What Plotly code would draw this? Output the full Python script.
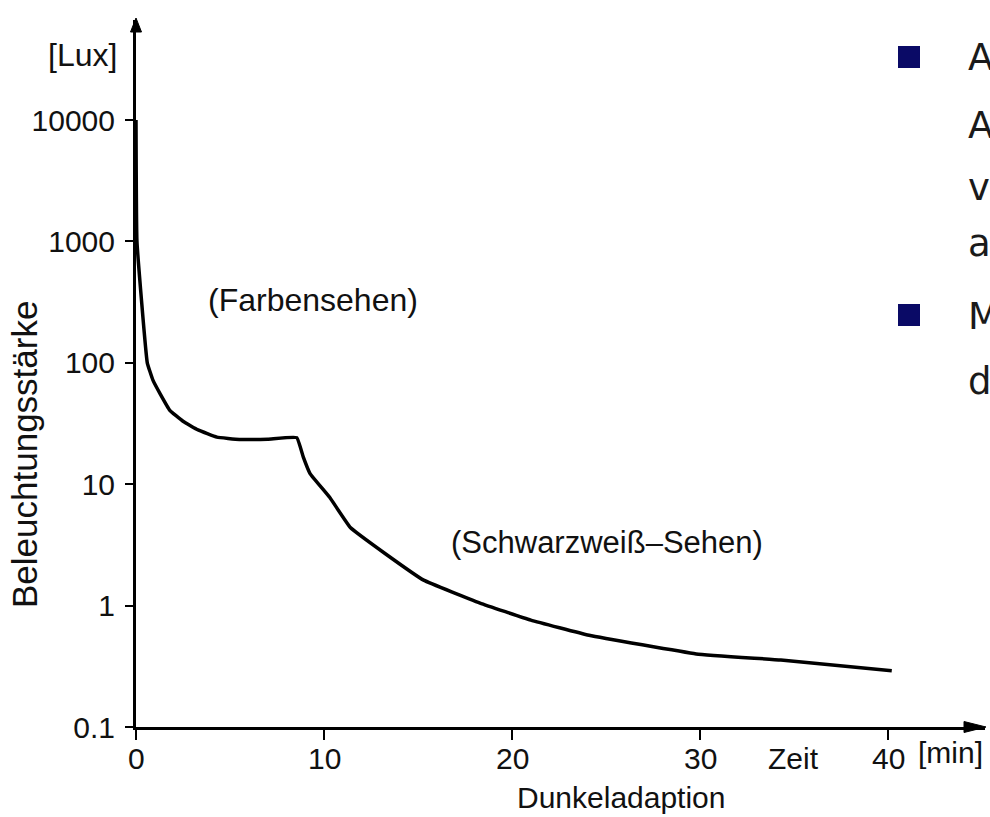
import plotly.graph_objects as go

# ---- data ----
zeit_min = [0, 0.05, 0.6, 0.9, 1.3, 1.8, 2.5, 3.3, 4.3, 5.5, 7.0, 8.55,
            8.9, 9.25, 10.3, 11.4, 13.3, 15.3, 18.3, 21.0, 24.1, 29.8, 34.3, 40.2]
lux = [10000, 1000, 100, 72, 55, 40.6, 33, 28, 24.4, 23.4, 23.5, 24.2,
       16.7, 12.3, 7.8, 4.4, 2.65, 1.62, 1.05, 0.76, 0.57, 0.40, 0.356, 0.29]

x_ticks = [0, 10, 20, 30, 40]
x_ticktext = ["0", "10", "20", "30", "40"]
y_ticks = [0.1, 1, 10, 100, 1000, 10000]
y_ticktext = ["0.1", "1", "10", "100", "1000", "10000"]

bullet_lines = ["A", "A", "v", "a", "M", "d"]

# ---- layout geometry (page pixels; body margin removed by post_script) ----
W, H = 990, 817
L, R, T, B = 136, 5, 20, 90
PW, PH = W - L - R, H - T - B
XMAX = PW / 18.8
YTOP = -1 + PH / 121.4

def px(xp):
    return (xp - L) / PW

def py(yp):
    return (H - B - yp) / PH

FONT = "Liberation Sans, Arial, Helvetica, sans-serif"
BFONT = "DejaVu Sans, Verdana, sans-serif"
INK = "#111111"

fig = go.Figure()
fig.add_trace(go.Scatter(
    x=zeit_min, y=lux, mode="lines",
    line=dict(color="black", width=3.5, shape="spline", smoothing=0.3),
    showlegend=False, hoverinfo="skip"))

fig.update_layout(
    width=W, height=H,
    margin=dict(l=L, r=R, t=T, b=B, pad=0),
    paper_bgcolor="white", plot_bgcolor="white",
    font=dict(family=FONT, size=30, color=INK),
    showlegend=False,
)
fig.update_xaxes(
    range=[0, XMAX], showgrid=False, zeroline=False,
    showline=True, linecolor="black", linewidth=3,
    ticks="outside", ticklen=10, tickwidth=2, tickcolor="black",
    tickvals=x_ticks, showticklabels=False,
)
fig.update_yaxes(
    type="log", range=[-1, YTOP], showgrid=False, zeroline=False,
    showline=True, linecolor="black", linewidth=3,
    ticks="outside", ticklen=8, tickwidth=2, tickcolor="black",
    tickvals=y_ticks, ticktext=y_ticktext,
    tickfont=dict(family=FONT, size=30, color=INK),
    ticklabelstandoff=4,
)

# x tick labels
for v, t in zip(x_ticks, x_ticktext):
    fig.add_annotation(text=t, x=v, xref="x", y=py(758), yref="paper",
                       showarrow=False, xanchor="center", yanchor="middle",
                       font=dict(family=FONT, size=30, color=INK))

# arrowheads on axes
fig.add_shape(type="path", xref="paper", yref="paper",
              path=f"M {px(986)},{py(727)} L {px(964)},{py(721.5)} L {px(964)},{py(732.5)} Z",
              fillcolor="black", line=dict(color="black", width=1))
fig.add_shape(type="path", xref="paper", yref="paper",
              path=f"M {px(136)},{py(18)} L {px(130.5)},{py(32)} L {px(141.5)},{py(32)} Z",
              fillcolor="black", line=dict(color="black", width=1))

def ann(text, xp, yp, size=30, **kw):
    fig.add_annotation(text=text, xref="paper", yref="paper",
                       x=px(xp), y=py(yp), showarrow=False,
                       font=dict(family=kw.pop("family", FONT), size=size,
                                 color=kw.pop("color", INK)),
                       **kw)

ann("[Lux]", 82, 55, size=32, xanchor="center", yanchor="middle")
ann("(Farbensehen)", 313, 300, size=32, xanchor="center", yanchor="middle")
ann("(Schwarzweiß–Sehen)", 607, 542, size=31, xanchor="center", yanchor="middle")
ann("Zeit", 793, 758, xanchor="center", yanchor="middle")
ann("[min]", 950, 752, xanchor="center", yanchor="middle")
ann("Dunkeladaption", 621, 797, size=30, xanchor="center", yanchor="middle")
ann("Beleuchtungsstärke", 24, 455, size=35, textangle=-90,
    xanchor="center", yanchor="middle")

# bullet text at the right edge (cut off by the page edge, as in the reference)
bullet_y = [58, 125, 187, 244, 316, 381]
for t, yy in zip(bullet_lines, bullet_y):
    ann(t, 966, yy, size=37, family=BFONT, color="#1a1a1a",
        xanchor="left", yanchor="middle")
for y_top in [46, 304]:
    fig.add_shape(type="rect", xref="paper", yref="paper",
                  x0=px(898), x1=px(920), y0=py(y_top + 22), y1=py(y_top),
                  fillcolor="#0a0a66", line=dict(width=0))

fig.write_html(
    "out.html",
    config={"displayModeBar": False, "staticPlot": True},
    post_script="document.body.style.margin='0';document.body.style.overflow='hidden';",
)
